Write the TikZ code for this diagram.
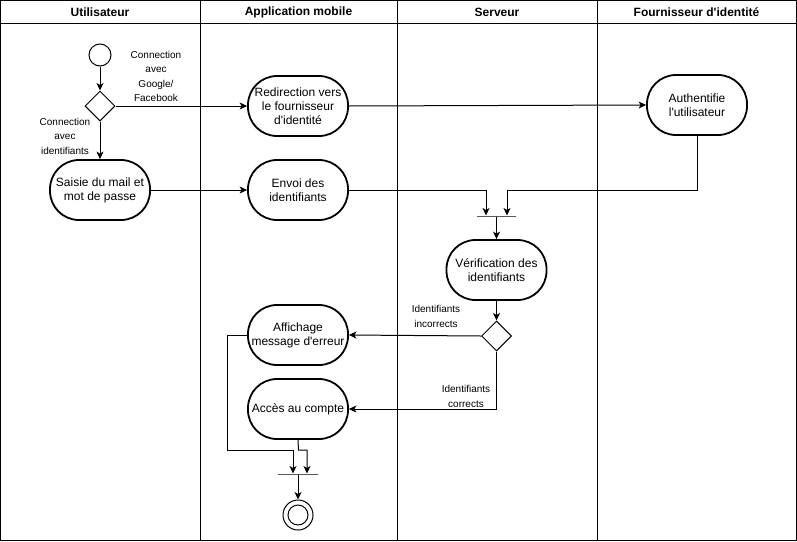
\documentclass[tikz,border=0pt]{standalone}
\usepackage{fontspec}
\setmainfont{Liberation Sans}
\usetikzlibrary{shapes.geometric,arrows.meta,calc}
\newcommand{\apo}{\textquotesingle}
\begin{document}
\begin{tikzpicture}[x=1pt,y=-1pt,
  every node/.style={font=\fontsize{12}{14}\selectfont},
  act/.style={draw,line width=1.8pt,rounded corners=29pt,minimum width=100pt,minimum height=60pt,align=center,inner sep=1pt},
  hdr/.style={font=\bfseries\fontsize{12}{14}\selectfont},
  lbl/.style={font=\fontsize{10}{14.5}\selectfont,align=center,inner sep=0pt},
  arr/.style={line width=1pt,-{Stealth[length=7.5pt,width=7pt,inset=2pt]}},
  bar/.style={draw,line width=1pt,minimum height=0pt,inner sep=0pt},
  dec/.style={draw,diamond,aspect=1,minimum width=30pt,minimum height=30pt,inner sep=0pt,line width=1pt}
]
\useasboundingbox (0,0) rectangle (797,541);
% frame and lanes
\draw[line width=1pt] (0.5,0.5) rectangle (796,540);
\draw[line width=1pt] (0.5,23) -- (796,23);
\draw[line width=1pt] (200,0.5) -- (200,540);
\draw[line width=1pt] (397,0.5) -- (397,540);
\draw[line width=1pt] (597,0.5) -- (597,540);
\node[hdr] (h1) at (100,12) {Utilisateur};
\node[hdr] (h2) at (298.5,12) {Application mobile};
\node[hdr] (h3) at (497,12) {Serveur};
\node[hdr] (h4) at (696.5,12) {Fournisseur d\apo identité};
% nodes
\node[draw,circle,minimum size=22pt,inner sep=0pt,line width=1pt] (start) at (100,55) {};
\node[dec] (d1) at (100,106) {};
\node[act] (redir) at (298,106) {Redirection vers\\le fournisseur\\d\apo identité};
\node[act] (auth) at (697,105) {Authentifie\\l\apo utilisateur};
\node[act] (saisie) at (100,190) {Saisie du mail et\\mot de passe};
\node[act] (envoi) at (298,190) {Envoi des\\identifiants};
\node[bar,minimum width=39pt] (bar1) at (496.5,216) {};
\node[act] (verif) at (496.5,270) {Vérification des\\identifiants};
\node[dec] (d2) at (496.5,336) {};
\node[act] (affich) at (298,335) {Affichage\\message d\apo erreur};
\node[act] (acces) at (298,409) {Accès au compte};
\node[bar,minimum width=40pt] (bar2) at (298,474) {};
\node[draw,circle,minimum size=30pt,inner sep=0pt,line width=1pt] (fin) at (298,515) {};
\node[draw,circle,minimum size=20pt,inner sep=0pt,line width=1pt] (fin2) at (298,515) {};
% labels
\node[lbl] (l1) at (156,76.5) {Connection\\avec\\Google/\\Facebook};
\node[lbl] (l2) at (65,136) {Connection\\avec\\identifiants};
\node[lbl] (l3) at (436,316.5) {Identifiants\\incorrects};
\node[lbl] (l4) at (466,396.5) {Identifiants\\corrects};
% coordinates
\coordinate (j1) at (697,190);
\coordinate (k1) at (227,450);
\coordinate (k2) at (298.5,450);
% connectors
\draw[arr] (start) -- (d1);
\draw[arr] (d1.east) -- (redir.west);
\draw[arr] (redir.east) -- (auth.west);
\draw[arr] (d1.south) -- (saisie.north);
\draw[arr] (saisie.east) -- (envoi.west);
\draw[arr] (envoi.east) -| ([xshift=-10.5pt]bar1.north);
\draw[arr] (auth.south) -- (j1) -| ([xshift=10.5pt]bar1.north);
\draw[arr] (bar1.south) -- (verif.north);
\draw[arr] (verif.south) -- (d2.north);
\draw[arr] (d2.west) -- (affich.east);
\draw[arr] (d2.south) |- (acces.east);
\draw[arr] (affich.west) -| (k1) -| ([xshift=-5pt]bar2.north);
\draw[arr] (acces.south) -- (k2) -| ([xshift=9pt]bar2.north);
\draw[arr] (bar2.south) -- (fin.north);
\end{tikzpicture}
\end{document}
